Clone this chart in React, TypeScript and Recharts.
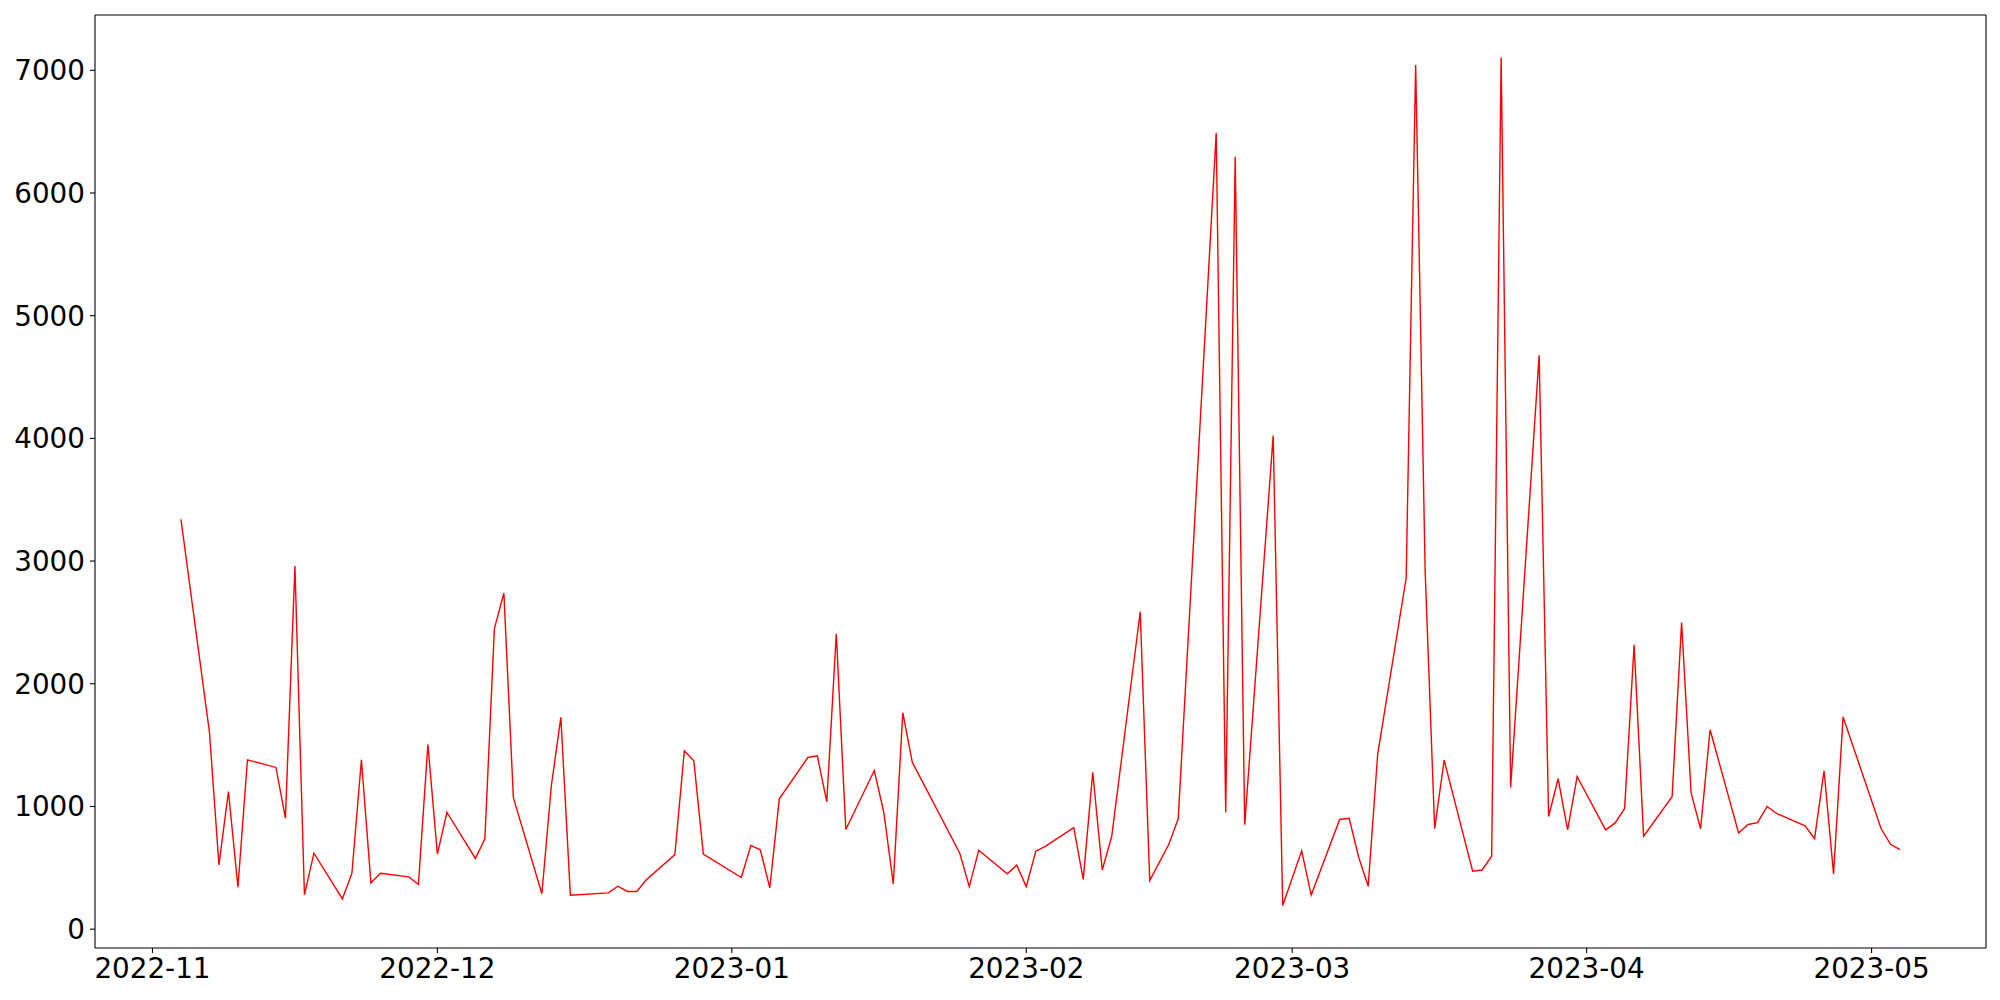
import { LineChart, Line, XAxis, YAxis } from 'recharts';

// trading days
const dates = [
  '2022-11-04', '2022-11-07', '2022-11-08', '2022-11-09', '2022-11-10', '2022-11-11',
  '2022-11-14', '2022-11-15', '2022-11-16', '2022-11-17', '2022-11-18',
  '2022-11-21', '2022-11-22', '2022-11-23', '2022-11-24', '2022-11-25',
  '2022-11-28', '2022-11-29', '2022-11-30', '2022-12-01', '2022-12-02',
  '2022-12-05', '2022-12-06', '2022-12-07', '2022-12-08', '2022-12-09',
  '2022-12-12', '2022-12-13', '2022-12-14', '2022-12-15',
  '2022-12-19', '2022-12-20', '2022-12-21', '2022-12-22', '2022-12-23',
  '2022-12-26', '2022-12-27', '2022-12-28', '2022-12-29',
  '2023-01-02', '2023-01-03', '2023-01-04', '2023-01-05', '2023-01-06',
  '2023-01-09', '2023-01-10', '2023-01-11', '2023-01-12', '2023-01-13',
  '2023-01-16', '2023-01-17', '2023-01-18', '2023-01-19', '2023-01-20',
  '2023-01-25', '2023-01-26', '2023-01-27',
  '2023-01-30', '2023-01-31', '2023-02-01', '2023-02-02', '2023-02-03',
  '2023-02-06', '2023-02-07', '2023-02-08', '2023-02-09', '2023-02-10',
  '2023-02-13', '2023-02-14', '2023-02-16', '2023-02-17',
  '2023-02-21', '2023-02-22', '2023-02-23', '2023-02-24',
  '2023-02-27', '2023-02-28', '2023-03-02', '2023-03-03',
  '2023-03-06', '2023-03-07', '2023-03-08', '2023-03-09', '2023-03-10',
  '2023-03-13', '2023-03-14', '2023-03-15', '2023-03-16', '2023-03-17',
  '2023-03-20', '2023-03-21', '2023-03-22', '2023-03-23', '2023-03-24',
  '2023-03-27', '2023-03-28', '2023-03-29', '2023-03-30', '2023-03-31',
  '2023-04-03', '2023-04-04', '2023-04-05', '2023-04-06', '2023-04-07',
  '2023-04-10', '2023-04-11', '2023-04-12', '2023-04-13', '2023-04-14',
  '2023-04-17', '2023-04-18', '2023-04-19', '2023-04-20', '2023-04-21',
  '2023-04-24', '2023-04-25', '2023-04-26', '2023-04-27', '2023-04-28',
  '2023-05-02', '2023-05-03', '2023-05-04',
];

const values = [
  3340, 1606, 524, 1122, 342, 1380,
  1318, 904, 2959, 280, 619,
  247, 456, 1380, 377, 456,
  426, 364, 1505, 611, 953,
  576, 736, 2449, 2739, 1071,
  288, 1171, 1726, 277,
  296, 350, 307, 307, 402,
  608, 1454, 1372, 611,
  421, 682, 647, 337, 1062,
  1399, 1413, 1038, 2408, 812,
  1293, 953, 369, 1764, 1361,
  619, 347, 644,
  451, 521, 347, 635, 674,
  828, 406, 1278, 482, 757,
  2587, 396, 690, 899,
  6489, 951, 6295, 851,
  4023, 192, 638, 278,
  894, 903, 586, 349, 1425,
  2862, 7043, 2918, 819, 1377,
  472, 482, 595, 7105, 1155,
  4678, 918, 1226, 809, 1244,
  809, 866, 984, 2317, 757,
  1079, 2499, 1111, 817, 1625,
  784, 853, 868, 1000, 943,
  842, 738, 1291, 450, 1730,
  820, 692, 648,
];

const monthTicks = ['2022-11-01', '2022-12-01', '2023-01-01', '2023-02-01', '2023-03-01', '2023-04-01', '2023-05-01'];
const yTicks = [0, 1000, 2000, 3000, 4000, 5000, 6000, 7000];

const toTs = (s: string) => {
  const [y, m, d] = s.split('-').map(Number);
  return Date.UTC(y, m - 1, d);
};

const data = dates.map((d, i) => ({ t: toTs(d), v: values[i] }));

// matplotlib-style 5% margins
const tMin = data[0].t;
const tMax = data[data.length - 1].t;
const tPad = (tMax - tMin) * 0.05;
const vMin = Math.min(...values);
const vMax = Math.max(...values);
const vPad = (vMax - vMin) * 0.05;
const xDomain = [tMin - tPad, tMax + tPad];
const yDomain = [vMin - vPad, vMax + vPad];

const fmtMonth = (ts: number) => {
  const d = new Date(ts);
  return `${d.getUTCFullYear()}-${String(d.getUTCMonth() + 1).padStart(2, '0')}`;
};

const tickStyle = { fontSize: 27.8, fill: '#000', fontFamily: 'DejaVu Sans' };
const frame = { stroke: '#000', strokeWidth: 1.1 };

export default function App() {
  return (
    <div>
      <style>{`body{margin:0}`}</style>
      <LineChart width={2000} height={1000} data={data} margin={{ top: 14, right: 13, bottom: 0, left: 0 }}>
        <XAxis
          dataKey="t"
          type="number"
          scale="linear"
          domain={xDomain}
          allowDataOverflow
          ticks={monthTicks.map(toTs)}
          tickFormatter={fmtMonth}
          height={52}
          tick={tickStyle}
          tickSize={5}
          tickMargin={5}
          axisLine={frame}
          tickLine={frame}
        />
        <XAxis
          xAxisId="top"
          orientation="top"
          dataKey="t"
          type="number"
          domain={xDomain}
          allowDataOverflow
          height={1}
          tick={false}
          tickLine={false}
          axisLine={frame}
        />
        <YAxis
          type="number"
          domain={yDomain}
          allowDataOverflow
          ticks={yTicks}
          width={95}
          tick={tickStyle}
          tickSize={5}
          tickMargin={5}
          axisLine={frame}
          tickLine={frame}
        />
        <YAxis
          yAxisId="right"
          orientation="right"
          type="number"
          domain={yDomain}
          allowDataOverflow
          width={1}
          tick={false}
          tickLine={false}
          axisLine={frame}
        />
        <Line
          type="linear"
          dataKey="v"
          stroke="#ff0000"
          strokeWidth={1.4}
          dot={false}
          activeDot={false}
          isAnimationActive={false}
        />
      </LineChart>
    </div>
  );
}
